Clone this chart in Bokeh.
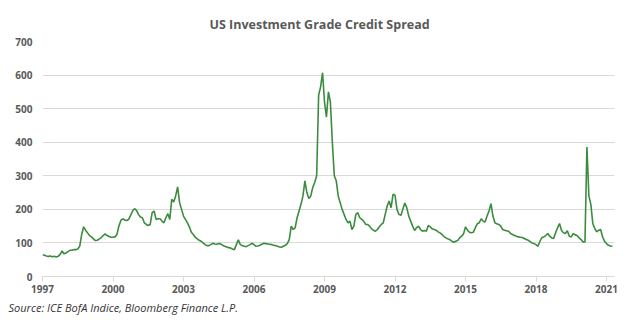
from bokeh.plotting import figure
from bokeh.models import Range1d, FixedTicker, PrintfTickFormatter, Title
from bokeh.embed import file_html
from bokeh.resources import INLINE

# Monthly option-adjusted spread (bp), Jan..Dec each year
y1997 = [65, 63, 61, 60, 61, 59, 60, 58, 60, 66, 76, 68]
y1998 = [70, 74, 78, 78, 80, 80, 82, 90, 125, 148, 138, 130]
y1999 = [122, 118, 112, 107, 108, 112, 116, 122, 127, 122, 119, 117]
y2000 = [117, 118, 125, 150, 167, 172, 168, 167, 170, 182, 195, 202]
y2001 = [197, 185, 177, 175, 160, 155, 152, 155, 190, 195, 170, 172]
y2002 = [172, 165, 160, 175, 187, 170, 230, 222, 240, 267, 220, 200]
y2003 = [180, 170, 160, 148, 132, 125, 117, 112, 108, 105, 100, 95]
y2004 = [92, 92, 95, 99, 97, 96, 98, 97, 93, 90, 88, 86]
y2005 = [85, 82, 80, 95, 109, 95, 92, 90, 89, 92, 95, 99]
y2006 = [95, 90, 91, 93, 96, 99, 98, 97, 96, 95, 93, 92]
y2007 = [90, 88, 87, 90, 93, 98, 110, 150, 140, 145, 175, 195]
y2008 = [215, 240, 285, 250, 232, 240, 265, 280, 300, 540, 565, 607]
y2009 = [520, 475, 550, 520, 400, 300, 285, 240, 220, 200, 185, 170]
y2010 = [160, 165, 140, 150, 185, 190, 175, 170, 165, 155, 155, 150]
y2011 = [142, 138, 135, 140, 148, 155, 160, 185, 210, 225, 205, 245]
y2012 = [242, 200, 185, 182, 200, 219, 205, 180, 165, 150, 137, 145]
y2013 = [150, 140, 135, 137, 135, 152, 148, 142, 140, 138, 133, 130]
y2014 = [125, 119, 115, 112, 110, 105, 102, 105, 107, 115, 120, 127]
y2015 = [148, 138, 132, 130, 132, 145, 157, 160, 172, 165, 162, 180]
y2016 = [195, 217, 180, 160, 157, 155, 150, 140, 138, 136, 135, 128]
y2017 = [125, 122, 120, 118, 117, 116, 113, 110, 108, 104, 100, 98]
y2018 = [95, 90, 105, 116, 118, 122, 128, 120, 115, 113, 130, 145]
y2019 = [158, 138, 130, 128, 136, 120, 118, 128, 124, 122, 115, 110]
y2020 = [103, 103, 386, 240, 215, 158, 143, 133, 138, 140, 118, 105]
y2021 = [98, 93, 91, 90]

years = list(range(1997, 2022))
series = [y1997, y1998, y1999, y2000, y2001, y2002, y2003, y2004, y2005,
          y2006, y2007, y2008, y2009, y2010, y2011, y2012, y2013, y2014,
          y2015, y2016, y2017, y2018, y2019, y2020, y2021]
x_ticks = [1997, 2000, 2003, 2006, 2009, 2012, 2015, 2018, 2021]
y_ticks = [0, 100, 200, 300, 400, 500, 600, 700]

title_text = "US Investment Grade Credit Spread"
source_text = "Source: ICE BofA Indice, Bloomberg Finance L.P."

xs, vals = [], []
for yr, arr in zip(years, series):
    for m, v in enumerate(arr):
        xs.append(yr + m / 12.0)
        vals.append(v)

W, H = 633, 324
grey_txt = "#595959"
font = "Open Sans"

p = figure(width=W, height=H, output_backend="svg", toolbar_location=None,
           x_range=Range1d(1997, 2021.34), y_range=Range1d(0, 700),
           min_border_left=42, min_border_right=19, min_border_top=41,
           min_border_bottom=48)
p.title = Title(text=title_text, align="left", offset=167, vertical_align="middle",
                text_font=font, text_font_size="12.5px", text_font_style="bold",
                text_color=grey_txt, standoff=15)
p.add_layout(Title(text=source_text, align="left", offset=-34,
                   text_font=font, text_font_size="11px", text_font_style="italic",
                   text_color="#333333", standoff=5), "below")
p.outline_line_color = None
p.background_fill_color = "white"
p.border_fill_color = "white"

p.line(xs, vals, line_color="#3B8C3F", line_width=1.6)

p.xgrid.grid_line_color = None
p.ygrid.grid_line_color = "#D9D9D9"
p.ygrid.grid_line_width = 1

xa = p.xaxis[0]
xa.ticker = FixedTicker(ticks=x_ticks)
xa.formatter = PrintfTickFormatter(format="%d")
xa.axis_line_color = "#D9D9D9"
xa.major_tick_line_color = "#D9D9D9"
xa.major_tick_out = 5
xa.major_tick_in = 0
xa.minor_tick_line_color = None
xa.major_label_text_font = font
xa.major_label_text_font_size = "10px"
xa.major_label_text_font_style = "bold"
xa.major_label_text_color = grey_txt
xa.major_label_standoff = 3

ya = p.yaxis[0]
ya.ticker = FixedTicker(ticks=y_ticks)
ya.axis_line_color = None
ya.major_tick_line_color = None
ya.minor_tick_line_color = None
ya.major_tick_out = 0
ya.major_tick_in = 0
ya.major_label_text_font = font
ya.major_label_text_font_size = "10px"
ya.major_label_text_font_style = "bold"
ya.major_label_text_color = grey_txt
ya.major_label_standoff = 10

open("out.html", "w").write(file_html(p, INLINE))
